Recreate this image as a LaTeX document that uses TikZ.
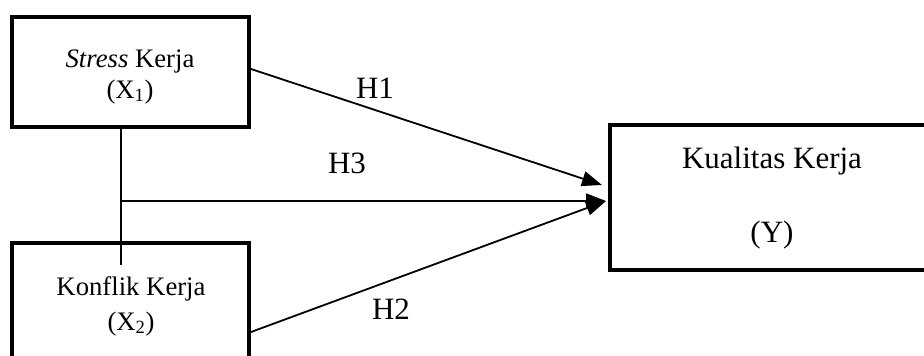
\documentclass[tikz,border=0pt]{standalone}
\usepackage{fontspec}
\setmainfont{Liberation Serif}
\usetikzlibrary{arrows.meta}
\begin{document}
\begin{tikzpicture}[x=1pt,y=-1pt,
  box/.style={draw=black,line width=4pt,rectangle,inner sep=0pt,fill=none},
  conn/.style={draw=black,line width=1.8pt},
  arr/.style={conn,-{Triangle[length=20pt,width=15pt]}},
  small/.style={anchor=base,inner sep=0pt,font=\fontsize{26.7}{32}\selectfont},
  big/.style={anchor=base,inner sep=0pt,font=\fontsize{31}{37}\selectfont}]
\clip (0,0) rectangle (924,356);
\fill[white] (0,0) rectangle (924,356);
% boxes
\node[box,minimum width=237pt,minimum height=110pt] (s) at (130.5,72) {};
\node[box,minimum width=237pt,minimum height=137pt] (k) at (130.5,311.5) {};
\node[box,minimum width=330pt,minimum height=145pt] (y) at (775,197.5) {};
% texts
\node[small] (st1) at (130,67) {\textit{Stress} Kerja};
\node[small] (st2) at (130,98) {(X\textsubscript{1})};
\node[small] (kt1) at (131,295) {Konflik Kerja};
\node[small] (kt2) at (131,330) {(X\textsubscript{2})};
\node[big] (yt1) at (772,168) {Kualitas Kerja};
\node[big] (yt2) at (772,242) {(Y)};
\node[big] (h1) at (375,98) {H1};
\node[big] (h3) at (347,173) {H3};
\node[big] (h2) at (391,319) {H2};
% connectors
\coordinate (vbot) at (121,265);
\coordinate (hstart) at (121,201);
\draw[conn] ([xshift=-9.5pt]s.south) -- (vbot);
\draw[arr] (hstart) -- ([xshift=-2pt,yshift=-3.5pt]y.west);
\draw[arr] ([yshift=3pt]s.east) -- ([xshift=-6pt,yshift=12.5pt]y.west);
\draw[arr] ([yshift=-20.5pt]k.east) -- ([xshift=-2pt,yshift=-3.5pt]y.west);
\end{tikzpicture}
\end{document}
